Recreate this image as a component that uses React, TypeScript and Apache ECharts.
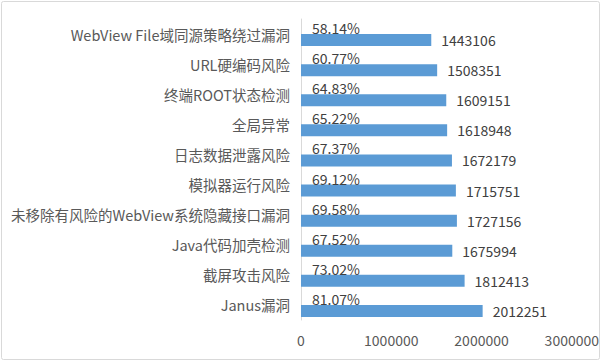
import React, { useEffect, useRef } from "react";
import * as echarts from "echarts";

const categories = [
  "WebView File域同源策略绕过漏洞",
  "URL硬编码风险",
  "终端ROOT状态检测",
  "全局异常",
  "日志数据泄露风险",
  "模拟器运行风险",
  "未移除有风险的WebView系统隐藏接口漏洞",
  "Java代码加壳检测",
  "截屏攻击风险",
  "Janus漏洞",
];
const counts = [1443106, 1508351, 1609151, 1618948, 1672179, 1715751, 1727156, 1675994, 1812413, 2012251];
const percents = ["58.14%", "60.77%", "64.83%", "65.22%", "67.37%", "69.12%", "69.58%", "67.52%", "73.02%", "81.07%"];
const xMin = 0;
const xMax = 3000000;
const xInterval = 1000000;

const FONT = "'Noto Sans CJK SC', 'Noto Sans', sans-serif";

export default function App() {
  const ref = useRef<HTMLDivElement>(null);
  useEffect(() => {
    if (!ref.current) return;
    const chart = echarts.init(ref.current, undefined, { renderer: "svg" });
    chart.setOption({
      animation: false,
      backgroundColor: "#ffffff",
      graphic: [
        {
          type: "rect",
          shape: { x: 1.5, y: 1.5, width: 598, height: 358, r: 2 },
          style: { fill: "none", stroke: "#d9d9d9", lineWidth: 1 },
          silent: true,
        },
      ],
      grid: { left: 301, right: 30, top: 19, bottom: 42, containLabel: false },
      xAxis: {
        type: "value",
        min: xMin,
        max: xMax,
        interval: xInterval,
        axisLine: { show: false },
        axisTick: { show: false },
        splitLine: { show: false },
        axisLabel: {
          color: "#595959",
          fontSize: 14,
          fontFamily: FONT,
          margin: 13,
          formatter: (v: number) => String(v),
        },
      },
      yAxis: {
        type: "category",
        inverse: true,
        data: categories,
        axisLine: { show: true, lineStyle: { color: "#d9d9d9", width: 1 } },
        axisTick: { show: false },
        axisLabel: { color: "#595959", fontSize: 14.5, fontFamily: FONT, margin: 11 },
      },
      series: [
        {
          type: "bar",
          name: "pct",
          data: counts,
          barWidth: 12,
          barGap: "0%",
          itemStyle: { color: "rgba(0,0,0,0)" },
          label: {
            show: true,
            position: "insideLeft",
            distance: 11,
            formatter: (p: any) => percents[p.dataIndex],
            color: "#404040",
            fontSize: 14,
            fontFamily: FONT,
          },
          silent: true,
        },
        {
          type: "bar",
          name: "count",
          data: counts,
          barWidth: 12,
          itemStyle: { color: "#5b9bd5" },
          label: {
            show: true,
            position: "right",
            distance: 10,
            color: "#404040",
            fontSize: 14,
            fontFamily: FONT,
          },
        },
      ],
    });
    return () => chart.dispose();
  }, []);
  return (
    <div
      ref={ref}
      style={{ position: "fixed", left: 0, top: 0, width: 602, height: 362 }}
    />
  );
}
